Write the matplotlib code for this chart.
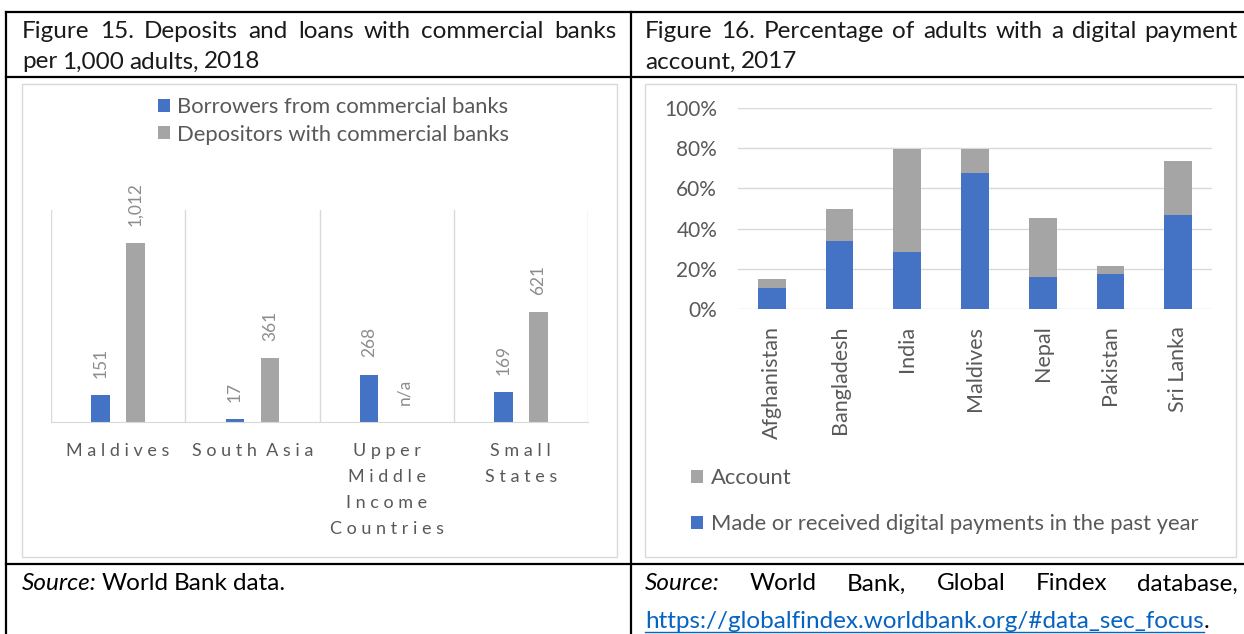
import numpy as np
import matplotlib
matplotlib.use("Agg")
import matplotlib.pyplot as plt
from matplotlib.patches import Rectangle

plt.rcParams['font.family'] = ['Lato', 'DejaVu Sans']

W, H = 1244, 634
BLUE = "#4472C4"
GRAY = "#A5A5A5"
TXT = "#595959"
GRID = "#D9D9D9"

# figure 15 data (per 1,000 adults)
regions = ["Maldives", "South Asia", "Upper\nMiddle\nIncome\nCountries", "Small\nStates"]
borrowers = [151, 17, 268, 169]
depositors = [1012, 361, np.nan, 621]

# figure 16 data (% of adults)
countries = ["Afghanistan", "Bangladesh", "India", "Maldives", "Nepal", "Pakistan", "Sri Lanka"]
account = [14.9, 50.0, 79.8, 79.4, 45.2, 21.3, 73.6]
digital = [10.4, 33.9, 28.6, 67.7, 16.0, 17.6, 46.8]

fig = plt.figure(figsize=(W / 100, H / 100), dpi=100)
bg = fig.add_axes([0, 0, 1, 1])
bg.set_xlim(0, W)
bg.set_ylim(H, 0)
bg.axis("off")
renderer = fig.canvas.get_renderer()


def px_axes(x0, y0, x1, y1):
    return fig.add_axes([x0 / W, 1 - y1 / H, (x1 - x0) / W, (y1 - y0) / H])


def words_line(words, x0, y, x1=None, gap=5, **kw):
    # words: list of (text, extra kwargs); justify between x0 and x1 if given
    texts = []
    for w, extra in words:
        opts = dict(kw)
        opts.update(extra)
        texts.append(bg.text(0, y, w, va="center", ha="left", **opts))
    widths = [t.get_window_extent(renderer).width for t in texts]
    if x1 is not None and len(words) > 1:
        gap = (x1 - x0 - sum(widths)) / (len(words) - 1)
    x = x0
    for t, w in zip(texts, widths):
        t.set_x(x)
        x += w + gap
    return x - gap


# table frame
for xs, ys in [([6, W], [12, 12]), ([6, W], [77, 77]), ([6, W], [564, 564]),
               ([6, 6], [12, H]), ([631, 631], [12, H])]:
    bg.plot(xs, ys, color="black", lw=1.6, solid_capstyle="projecting")

bg.add_patch(Rectangle((22, 84), 595, 473, fill=False, ec=GRID, lw=1))
bg.add_patch(Rectangle((645, 84), 591, 473, fill=False, ec=GRID, lw=1))

tkw = dict(fontsize=17.5, color="#1a1a1a")
words_line([(w, {}) for w in "Figure 15. Deposits and loans with commercial banks".split()],
           22, 32, x1=616, **tkw)
words_line([(w, {}) for w in "per 1,000 adults, 2018".split()], 22, 62, gap=5, **tkw)
words_line([(w, {}) for w in "Figure 16. Percentage of adults with a digital payment".split()],
           645, 32, x1=1238, **tkw)
words_line([(w, {}) for w in "account, 2017".split()], 645, 62, gap=5, **tkw)

# source row
skw = dict(fontsize=17.5, color="black")
words_line([("Source:", {"style": "italic"})] + [(w, {}) for w in "World Bank data.".split()],
           22, 584, gap=5, **skw)
words_line([("Source:", {"style": "italic"})] + [(w, {}) for w in "World Bank, Global Findex database,".split()],
           645, 584, x1=1238, **skw)
url = bg.text(645, 621, "https://globalfindex.worldbank.org/#data_sec_focus", va="center",
              ha="left", fontsize=17.5, color="#0563C1")
uw = url.get_window_extent(renderer).width
bg.plot([645, 645 + uw], [632, 632], color="#0563C1", lw=1)
bg.text(645 + uw, 621, ".", va="center", ha="left", fontsize=17.5, color="black")

# ---- figure 15
ax1 = px_axes(51, 210, 588, 422)
ax1.set_facecolor("none")
x = np.arange(len(regions))
bw = 0.138
ax1.bar(x - 0.13, borrowers, bw, color=BLUE, label="Borrowers from commercial banks")
ax1.bar(x + 0.13, np.nan_to_num(depositors), bw, color=GRAY, label="Depositors with commercial banks")
for xi, v in zip(x - 0.13, borrowers):
    ax1.annotate(f"{v:,}", (xi, v), xytext=(0, 12.5), textcoords="offset points", rotation=90,
                 ha="center", va="bottom", color="#8C8C8C", fontsize=12.5)
for xi, v in zip(x + 0.13, depositors):
    lab = "n/a" if np.isnan(v) else f"{int(v):,}"
    ax1.annotate(lab, (xi, np.nan_to_num(v)), xytext=(0, 12.5), textcoords="offset points",
                 rotation=90, ha="center", va="bottom", color="#8C8C8C", fontsize=12.5)
ax1.set_xlim(-0.5, len(regions) - 0.5)
ax1.set_ylim(0, 1200)
ax1.set_yticks([])
ax1.set_xticks(np.arange(-0.5, len(regions), 1), minor=True)
ax1.grid(axis="x", which="minor", color=GRID, lw=1)
ax1.set_xticks(x)


def spaced(label):
    return "\n".join("  ".join(" ".join(w) for w in line.split()) for line in label.split("\n"))


ax1.set_xticklabels([spaced(r) for r in regions], color=TXT, fontsize=13, linespacing=1.78, va="top")
ax1.tick_params(which="both", length=0, pad=15)
for s in ["top", "left", "right"]:
    ax1.spines[s].set_visible(False)
ax1.spines["bottom"].set_color(GRID)
ax1.legend(loc="center left", bbox_to_anchor=(158 / W, 1 - 121 / H), bbox_transform=fig.transFigure,
           frameon=False, fontsize=15.8, labelcolor=TXT, handlelength=0.55, handleheight=0.55,
           handletextpad=0.3, labelspacing=0.33, borderpad=0, borderaxespad=0)

# ---- figure 16
ax2 = px_axes(738, 108, 1212, 309)
ax2.set_facecolor("none")
x2 = np.arange(len(countries))
ba = ax2.bar(x2, account, 0.41, color=GRAY, label="Account", zorder=2)
bd = ax2.bar(x2, digital, 0.41, color=BLUE, label="Made or received digital payments in the past year", zorder=3)
ax2.set_xlim(-0.5, len(countries) - 0.5)
ax2.set_ylim(0, 100)
ax2.set_yticks(np.arange(0, 101, 20))
ax2.set_yticklabels([f"{v}%" for v in range(0, 101, 20)], color=TXT, fontsize=15)
ax2.set_xticks(x2)
ax2.set_xticklabels(countries, rotation=90, color=TXT, fontsize=15.5, va="top")
ax2.grid(axis="y", color=GRID, lw=1, zorder=0)
ax2.tick_params(axis="y", length=0, pad=15)
ax2.tick_params(axis="x", length=0, pad=12)
for s in ax2.spines.values():
    s.set_visible(False)
ax2.legend(handles=[ba, bd], loc="upper left", bbox_to_anchor=(691 / W, 1 - 468 / H),
           bbox_transform=fig.transFigure, frameon=False, fontsize=15.8, labelcolor=TXT,
           handlelength=0.55, handleheight=0.55, handletextpad=0.35, labelspacing=1.2,
           borderpad=0, borderaxespad=0)

fig.savefig("out.png", dpi=100)
